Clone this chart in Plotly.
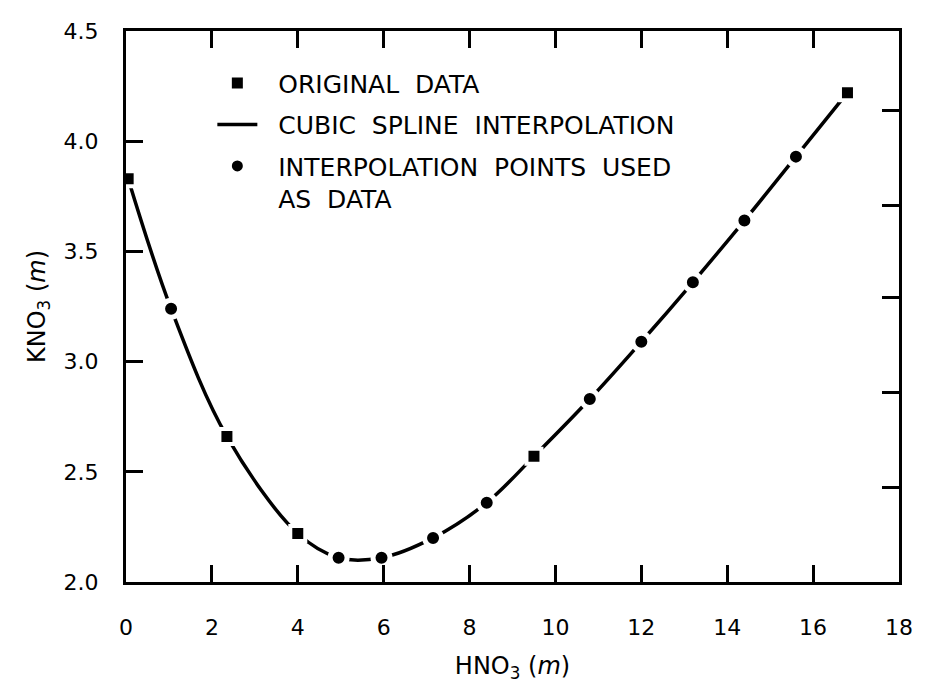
import plotly.graph_objects as go

# ---- data ----
orig_x = [0.05, 2.35, 4.0, 9.5, 16.8]
orig_y = [3.83, 2.66, 2.22, 2.57, 4.22]

interp_x = [1.05, 4.95, 5.95, 7.15, 8.4, 10.8, 12.0, 13.2, 14.4, 15.6]
interp_y = [3.24, 2.11, 2.11, 2.20, 2.36, 2.83, 3.09, 3.36, 3.64, 3.93]

x_ticks = [0, 2, 4, 6, 8, 10, 12, 14, 16, 18]
y_ticks = [2.0, 2.5, 3.0, 3.5, 4.0, 4.5]
right_ticks = [2.43, 2.86, 3.29, 3.71, 4.14]

PAD = "\u00a0\u00a0"
legend_names = [PAD + "ORIGINAL\u00a0\u00a0DATA",
                PAD + "CUBIC\u00a0\u00a0SPLINE\u00a0\u00a0INTERPOLATION",
                PAD + "INTERPOLATION\u00a0\u00a0POINTS\u00a0\u00a0USED<br>"
                + PAD + "AS\u00a0\u00a0DATA"]

# spline passes through every point
pts = sorted(zip(orig_x + interp_x, orig_y + interp_y))
line_x = [p[0] for p in pts]
line_y = [p[1] for p in pts]

FONT = "DejaVu Sans"

fig = go.Figure()
fig.add_trace(go.Scatter(
    x=line_x, y=line_y, mode="lines", name=legend_names[1], legendrank=2,
    legendgroup="b",
    line=dict(color="black", width=3.5, shape="spline", smoothing=1.0),
    hoverinfo="skip"))
fig.add_trace(go.Scatter(
    x=orig_x, y=orig_y, mode="markers", name=legend_names[0], legendrank=1,
    legendgroup="a",
    marker=dict(symbol="square", size=15, color="black",
                line=dict(color="white", width=4))))
fig.add_trace(go.Scatter(
    x=interp_x, y=interp_y, mode="markers", name=legend_names[2], legendrank=3,
    legendgroup="c",
    marker=dict(symbol="circle", size=17, color="black",
                line=dict(color="white", width=5))))
# invisible trace to create the right-hand tick axis
fig.add_trace(go.Scatter(
    x=orig_x, y=orig_y, mode="markers", yaxis="y2", showlegend=False,
    marker=dict(opacity=0), hoverinfo="skip"))

fig.update_layout(
    width=925, height=688,
    margin=dict(l=126, r=20, t=31, b=106),
    paper_bgcolor="white", plot_bgcolor="white",
    font=dict(family=FONT, color="black", size=22),
    showlegend=True,
    legend=dict(x=0.1117, y=0.947, xanchor="left", yanchor="top",
                bgcolor="rgba(0,0,0,0)", font=dict(size=25, family=FONT),
                valign="top", tracegroupgap=6, itemsizing="trace",
                itemwidth=40),
    xaxis=dict(range=[0, 18], tickvals=x_ticks, ticks="inside", ticklen=17,
               tickwidth=2.5, tickcolor="black", showline=True, linewidth=3,
               linecolor="black", mirror="ticks", showgrid=False, zeroline=False,
               tickfont=dict(size=22), ticklabelstandoff=24,
               title=dict(text="HNO<sub>3</sub> (<i>m</i>)", font=dict(size=24),
                          standoff=18)),
    yaxis=dict(range=[2.0, 4.5], tickvals=y_ticks, tickformat=".1f",
               ticks="inside", ticklen=17, tickwidth=2.5, tickcolor="black",
               showline=True, linewidth=3, linecolor="black", mirror=True,
               showgrid=False, zeroline=False, tickfont=dict(size=22),
               ticklabelstandoff=20,
               title=dict(text="KNO<sub>3</sub> (<i>m</i>)", font=dict(size=24),
                          standoff=12)),
    yaxis2=dict(range=[2.0, 4.5], overlaying="y", side="right", anchor="x",
                tickvals=right_ticks, ticks="inside", ticklen=17, tickwidth=2.5,
                tickcolor="black", showticklabels=False, showline=False,
                showgrid=False, zeroline=False),
)

fig.write_html("out.html")
